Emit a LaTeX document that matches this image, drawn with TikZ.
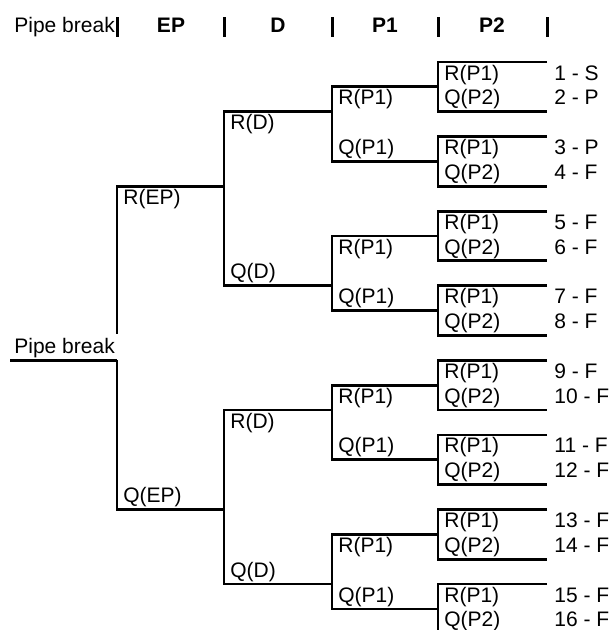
\documentclass[tikz,border=0pt]{standalone}
\usepackage{fontspec}
\setmainfont{Liberation Sans}
\begin{document}
\begin{tikzpicture}[x=1pt,y=-1pt,
  line width=2.8pt, line join=miter,
  lbl/.style={anchor=base west, inner sep=0pt, font=\fontsize{21}{25}\selectfont},
  hdr/.style={anchor=base, inner sep=0pt, font=\fontsize{21}{25}\selectfont\bfseries},
  hbar/.style={line width=3pt}]
\useasboundingbox (0,0) rectangle (609,630);
\clip (0,0) rectangle (609,630);
% columns
\coordinate (cA) at (10,0);
\coordinate (cB) at (117,0);
\coordinate (cC) at (224,0);
\coordinate (cD) at (332,0);
\coordinate (cE) at (438,0);
\coordinate (cF) at (547,0);
% label columns
\coordinate (lA) at (13,0);
\coordinate (lB) at (122,0);
\coordinate (lC) at (229,0);
\coordinate (lD) at (337,0);
\coordinate (lE) at (443,0);
\coordinate (lF) at (553,0);
% rows (lines) and baselines
\foreach \k in {0,...,23}{
  \coordinate (r\k) at (0,{62+24.86*\k});
  \coordinate (t\k) at (0,{62+24.86*\k+18});
}
\coordinate (gap) at (0,334);
\coordinate (hT) at (0,17);
\coordinate (hB) at (0,37);
\coordinate (hY) at (0,32.7);

% header
\node[lbl] (hPipe) at (lA |- hY) {Pipe break};
\node[hdr] (hEP) at (171,32.7) {EP};
\node[hdr] (hD)  at (278,32.7) {D};
\node[hdr] (hP1) at (385,32.7) {P1};
\node[hdr] (hP2) at (492,32.7) {P2};
\foreach \c in {cB,cC,cD,cE,cF}
  \draw[hbar] (\c |- hT) -- (\c |- hB);

% root and EP level
\draw (cA |- r12) -- (cB |- r12);
\draw (cC |- r5) -- (cB |- r5) -- (cB |- gap);
\draw (cB |- r12) -- (cB |- r18) -- (cC |- r18);
\node[lbl] (root) at (lA |- t11) {Pipe break};
\node[lbl] (REP) at (lB |- t5) {R(EP)};
\node[lbl] (QEP) at (lB |- t17) {Q(EP)};

% D level
\draw (cD |- r2) -- (cC |- r2) -- (cC |- r9) -- (cD |- r9);
\draw (cD |- r14) -- (cC |- r14) -- (cC |- r21) -- (cD |- r21);
\node[lbl] (RD1) at (lC |- t2) {R(D)};
\node[lbl] (QD1) at (lC |- t8) {Q(D)};
\node[lbl] (RD2) at (lC |- t14) {R(D)};
\node[lbl] (QD2) at (lC |- t20) {Q(D)};

% P1 level
\foreach \m [evaluate=\m as \b using int(6*\m+1),
             evaluate=\m as \e using int(6*\m+4),
             evaluate=\m as \d using int(6*\m+3)] in {0,...,3}{
  \draw (cE |- r\b) -- (cD |- r\b) -- (cD |- r\e) -- (cE |- r\e);
  \node[lbl] (RP1-\m) at (lD |- t\b) {R(P1)};
  \node[lbl] (QP1-\m) at (lD |- t\d) {Q(P1)};
}

% P2 level
\foreach \j [evaluate=\j as \a using int(3*\j),
             evaluate=\j as \b using int(3*\j+1),
             evaluate=\j as \c using int(3*\j+2)] in {0,...,7}{
  \draw (cF |- r\a) -- (cE |- r\a) -- (cE |- r\c) -- (cF |- r\c);
  \node[lbl] (RP2-\j) at (lE |- t\a) {R(P1)};
  \node[lbl] (QP2-\j) at (lE |- t\b) {Q(P2)};
}

% outcomes
\foreach \n/\o [evaluate=\n as \rw using int(\n-1+floor((\n-1)/2))] in
  {1/S,2/P,3/P,4/F,5/F,6/F,7/F,8/F,9/F,10/F,11/F,12/F,13/F,14/F,15/F,16/F}{
  \node[lbl] (out\n) at (lF |- t\rw) {\n\ - \o};
}
\end{tikzpicture}
\end{document}
